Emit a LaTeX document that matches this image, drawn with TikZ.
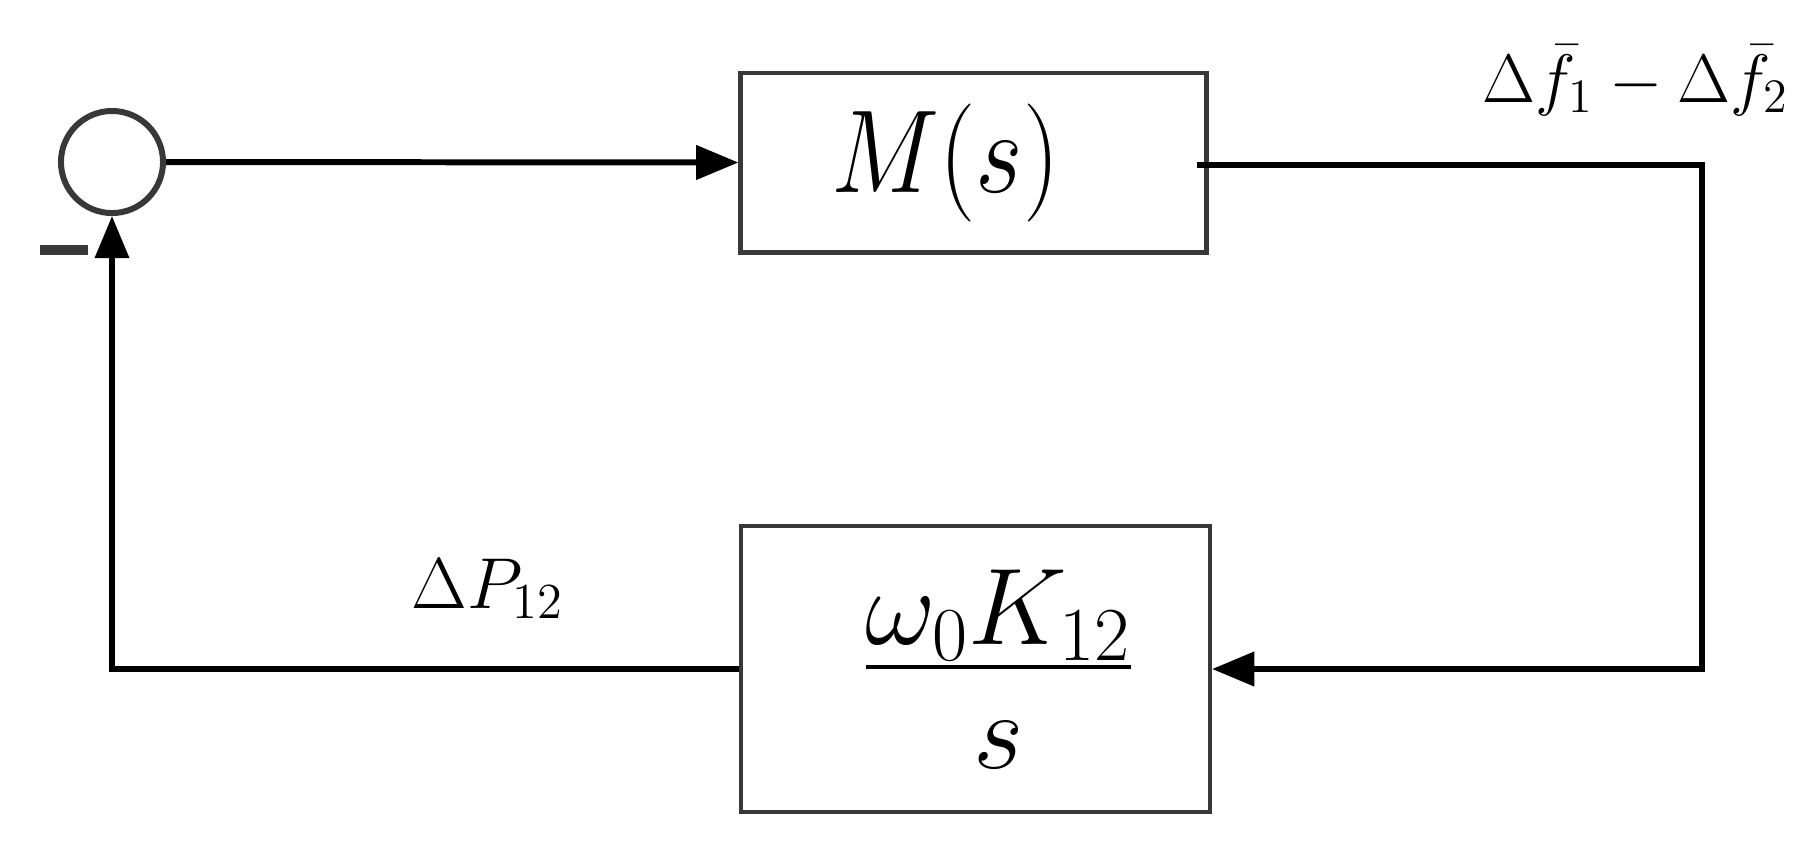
\RequirePackage{fix-cm}
\documentclass[tikz,border=0pt]{standalone}
\usepackage{graphicx}
\usetikzlibrary{arrows.meta}
\definecolor{boxgray}{HTML}{383838}
\begin{document}
\begin{tikzpicture}[x=0.01cm,y=-0.01cm,
  blk/.style={draw=boxgray, rectangle, inner sep=0pt},
  conn/.style={line width=1.7pt, black},
  tip/.style={-{Triangle[length=12pt,width=9.5pt]}}]
\useasboundingbox (0,0) rectangle (1812,844);
\node[draw=boxgray, circle, line width=1.7pt, minimum size=1.02cm, inner sep=0pt] (sum) at (112,162) {};
\node[fill=boxgray, minimum width=0.48cm, minimum height=0.1cm, inner sep=0pt] (minus) at (64,250) {};
\node[blk, line width=1.4pt, minimum width=4.65cm, minimum height=1.79cm] (M) at (973.5,162.5)
  {\fontsize{33.6}{40}\selectfont\scalebox{0.87}[1]{$M(s)$}\hspace*{0.56cm}};
\node[blk, line width=1.1pt, minimum width=4.69cm, minimum height=2.86cm] (G) at (975.5,669)
  {\fontsize{31}{37}\selectfont\hspace*{0.46cm}${\textstyle\omega_0K_{12}\above 1.15pt \textstyle\rule{0pt}{0.95cm}s}$};
\coordinate (mout) at (1197,165);
\coordinate (rc) at (1702,165);
\draw[conn,tip] (sum.east) -- (M.west);
\draw[conn,tip] (mout) -- (rc) |- (G.east);
\draw[conn,tip] (G.west) -| (sum.south);
\node[anchor=base, inner sep=0pt] (lf) at (1636,102)
  {\fontsize{19.5}{24}\selectfont$\Delta\bar f_1-\Delta\bar f_2$};
\node[anchor=base, inner sep=0pt] (lp) at (488,608)
  {\fontsize{20.5}{24}\selectfont$\Delta P_{12}$};
\end{tikzpicture}
\end{document}
